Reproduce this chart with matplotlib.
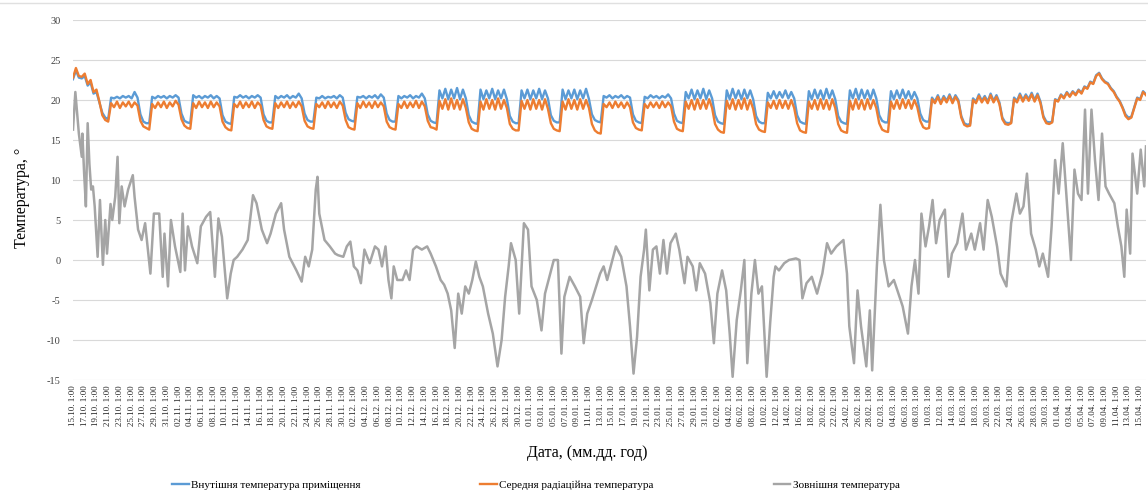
import numpy as np
import pandas as pd
import matplotlib
matplotlib.use("Agg")
import matplotlib.pyplot as plt
from matplotlib.lines import Line2D

plt.rcParams["font.family"] = ["Liberation Serif", "DejaVu Serif"]
plt.rcParams["axes.unicode_minus"] = False

# indoor / mean radiant temperature, sampled at 1:00 and 13:00 from 15.10 1:00
indoor = [
    22.6, 23.7, 22.8, 22.7, 23.0, 21.8, 22.2, 20.8, 21.0, 19.7, 18.4, 17.8,
    17.6, 20.3, 20.2, 20.4, 20.2, 20.5, 20.3, 20.5, 20.2, 21.0, 20.3, 18.2, 17.3, 17.1,
    17.1, 20.4, 20.2, 20.5, 20.3, 20.5, 20.2, 20.5, 20.3, 20.6, 20.3, 18.3, 17.4, 17.2,
    17.1, 20.6, 20.3, 20.5, 20.2, 20.5, 20.3, 20.6, 20.2, 20.5, 20.2, 18.1, 17.3, 17.1,
    17.0, 20.4, 20.3, 20.6, 20.3, 20.5, 20.2, 20.5, 20.3, 20.6, 20.3, 18.2, 17.4, 17.2,
    17.2, 20.5, 20.2, 20.5, 20.3, 20.6, 20.2, 20.5, 20.3, 20.8, 20.2, 18.3, 17.5, 17.3,
    17.3, 20.3, 20.2, 20.5, 20.2, 20.4, 20.3, 20.5, 20.2, 20.6, 20.3, 18.4, 17.6, 17.4,
    17.3, 20.4, 20.3, 20.5, 20.2, 20.5, 20.3, 20.6, 20.2, 20.7, 20.3, 18.3, 17.5, 17.3,
    17.3, 20.5, 20.2, 20.5, 20.3, 20.6, 20.2, 20.5, 20.3, 20.8, 20.2, 18.2, 17.4, 17.2,
    17.1, 21.2, 20.2, 21.4, 20.1, 21.3, 20.2, 21.5, 20.1, 21.3, 20.2, 18.1, 17.3, 17.1,
    17.0, 21.3, 20.1, 21.2, 20.2, 21.4, 20.1, 21.2, 20.2, 21.3, 20.1, 18.0, 17.3, 17.1,
    17.1, 21.2, 20.2, 21.3, 20.1, 21.2, 20.2, 21.4, 20.1, 21.2, 20.2, 18.1, 17.4, 17.2,
    17.2, 21.3, 20.1, 21.2, 20.2, 21.3, 20.1, 21.2, 20.2, 21.4, 20.1, 18.2, 17.5, 17.3,
    17.2, 20.5, 20.3, 20.6, 20.2, 20.5, 20.3, 20.6, 20.2, 20.5, 20.3, 18.2, 17.4, 17.2,
    17.1, 20.4, 20.2, 20.6, 20.3, 20.5, 20.2, 20.5, 20.3, 20.7, 20.2, 18.3, 17.4, 17.2,
    17.1, 21.0, 20.2, 21.3, 20.1, 21.2, 20.2, 21.4, 20.1, 21.2, 20.2, 18.1, 17.3, 17.1,
    17.0, 21.2, 20.1, 21.4, 20.2, 21.2, 20.1, 21.3, 20.2, 21.2, 20.1, 18.0, 17.3, 17.1,
    17.1, 20.9, 20.2, 21.1, 20.2, 21.0, 20.3, 21.2, 20.2, 21.0, 20.2, 18.1, 17.3, 17.1,
    17.0, 21.1, 20.1, 21.3, 20.2, 21.2, 20.1, 21.4, 20.2, 21.2, 20.1, 18.0, 17.3, 17.1,
    17.0, 21.2, 20.2, 21.4, 20.1, 21.3, 20.2, 21.2, 20.1, 21.3, 20.2, 18.1, 17.4, 17.2,
    17.2, 21.1, 20.1, 21.2, 20.2, 21.3, 20.2, 21.1, 20.1, 21.0, 20.2, 18.3, 17.5, 17.3,
    17.3, 20.3, 19.8, 20.6, 19.7, 20.5, 19.9, 20.7, 19.8, 20.6, 20.0, 18.0, 17.1, 16.9,
    17.0, 20.2, 19.8, 20.7, 19.9, 20.5, 19.8, 20.8, 19.9, 20.6, 19.7, 17.8, 17.2, 17.1,
    17.2, 20.3, 19.9, 20.8, 20.0, 20.7, 20.1, 20.9, 20.0, 20.8, 19.8, 18.0, 17.3, 17.2,
    17.3, 20.1, 19.9, 20.7, 20.3, 21.0, 20.5, 21.1, 20.7, 21.3, 20.9, 21.7, 21.5, 22.3,
    22.1, 23.1, 23.4, 22.7, 22.3, 22.1, 21.5, 21.1, 20.4, 19.9, 19.1, 18.2, 17.8, 17.9,
    19.1, 20.3, 20.1, 21.1, 20.7,
]
radiant = [
    22.8, 24.0, 23.0, 22.9, 23.3, 22.0, 22.5, 21.0, 21.3, 19.8, 18.1, 17.5,
    17.3, 19.6, 19.1, 19.8, 19.0, 19.7, 19.2, 19.8, 19.1, 19.7, 19.3, 17.4, 16.7, 16.5,
    16.3, 19.5, 19.0, 19.7, 19.1, 19.8, 19.0, 19.7, 19.2, 19.9, 19.4, 17.6, 16.8, 16.5,
    16.4, 19.6, 19.0, 19.8, 19.1, 19.7, 19.0, 19.8, 19.1, 19.7, 19.2, 17.3, 16.6, 16.3,
    16.2, 19.5, 19.1, 19.8, 19.0, 19.7, 19.1, 19.8, 19.0, 19.7, 19.3, 17.5, 16.7, 16.5,
    16.4, 19.6, 19.0, 19.7, 19.1, 19.8, 19.0, 19.7, 19.1, 19.8, 19.2, 17.4, 16.7, 16.5,
    16.4, 19.5, 19.1, 19.7, 19.0, 19.8, 19.1, 19.7, 19.0, 19.8, 19.3, 17.5, 16.6, 16.4,
    16.3, 19.6, 19.0, 19.8, 19.1, 19.7, 19.0, 19.8, 19.1, 19.7, 19.2, 17.3, 16.6, 16.4,
    16.3, 19.5, 19.0, 19.8, 19.0, 19.7, 19.1, 19.9, 19.0, 19.8, 19.2, 17.4, 16.6, 16.5,
    16.3, 19.9, 18.9, 20.1, 18.8, 20.2, 18.9, 20.0, 18.8, 20.1, 19.0, 17.2, 16.4, 16.2,
    16.1, 19.8, 18.8, 20.1, 18.9, 20.0, 18.8, 20.2, 18.9, 20.0, 19.0, 17.0, 16.4, 16.2,
    16.2, 19.9, 18.9, 20.0, 18.8, 20.1, 18.9, 20.0, 18.8, 20.1, 18.9, 17.1, 16.4, 16.2,
    16.1, 19.8, 18.8, 20.1, 18.9, 20.0, 18.8, 20.1, 18.9, 20.0, 19.0, 17.0, 16.2, 15.9,
    15.8, 19.5, 19.1, 19.7, 19.0, 19.8, 19.1, 19.7, 19.0, 19.7, 19.1, 17.2, 16.5, 16.3,
    16.2, 19.5, 19.0, 19.7, 19.1, 19.7, 19.0, 19.8, 19.1, 19.7, 19.2, 17.3, 16.4, 16.2,
    16.1, 19.8, 18.9, 20.0, 18.8, 20.1, 18.9, 20.0, 18.9, 20.1, 19.0, 17.0, 16.3, 16.0,
    15.9, 19.9, 18.9, 20.1, 18.8, 20.0, 18.9, 20.2, 18.8, 20.0, 18.9, 17.0, 16.3, 16.1,
    16.0, 19.7, 19.0, 19.9, 18.9, 20.0, 19.0, 19.9, 18.9, 20.0, 19.0, 17.1, 16.2, 16.0,
    15.9, 19.8, 18.9, 20.0, 18.8, 20.1, 18.9, 20.0, 18.8, 20.1, 19.0, 17.0, 16.2, 16.0,
    15.9, 19.9, 18.8, 20.1, 18.9, 20.0, 18.8, 20.1, 18.9, 20.0, 19.0, 17.1, 16.3, 16.1,
    16.0, 19.8, 18.9, 20.0, 18.9, 20.1, 19.0, 20.0, 18.9, 20.0, 19.1, 17.4, 16.6, 16.4,
    16.5, 20.1, 19.6, 20.4, 19.5, 20.3, 19.7, 20.5, 19.6, 20.4, 19.8, 17.8, 16.9, 16.7,
    16.8, 20.0, 19.6, 20.5, 19.7, 20.3, 19.6, 20.6, 19.7, 20.4, 19.5, 17.6, 17.0, 16.9,
    17.1, 20.1, 19.7, 20.6, 19.8, 20.5, 19.9, 20.7, 19.8, 20.6, 19.6, 17.8, 17.1, 17.0,
    17.2, 20.0, 19.8, 20.6, 20.2, 20.9, 20.4, 21.0, 20.6, 21.2, 20.8, 21.6, 21.4, 22.2,
    22.0, 23.0, 23.3, 22.6, 22.2, 22.0, 21.4, 21.0, 20.3, 19.8, 19.0, 18.0, 17.6, 17.8,
    19.0, 20.2, 20.0, 21.0, 20.6,
]

# outdoor temperature: day offset from 15.10 1:00 and value
outdoor_day = [
    0.0, 0.4, 1.0, 1.5, 1.6, 1.9, 2.2, 2.5, 2.8, 3.1,
    3.4, 3.7, 4.2, 4.6, 5.1, 5.5, 5.8, 6.4, 6.7, 7.2,
    7.6, 7.9, 8.3, 8.8, 9.4, 10.2, 10.5, 11.1, 11.7, 12.3,
    13.2, 13.8, 14.7, 15.3, 15.6, 16.2, 16.7, 17.4, 18.3, 18.7,
    19.1, 19.6, 20.3, 21.2, 21.8, 22.7, 23.4, 24.2, 24.8, 25.4,
    26.3, 26.9, 27.4, 28.0, 28.9, 29.8, 30.7, 31.3, 32.2, 33.1,
    33.7, 34.6, 35.5, 36.0, 36.9, 38.1, 39.0, 39.6, 40.2, 40.8,
    41.4, 41.7, 42.0, 42.9, 43.8, 44.7, 45.2, 46.1, 46.7, 47.3,
    47.9, 48.5, 49.1, 49.7, 50.6, 51.5, 52.1, 52.7, 53.3, 53.8,
    54.3, 54.7, 55.3, 56.2, 56.8, 57.4, 58.0, 58.6, 59.5, 60.4,
    61.0, 61.9, 62.7, 63.3, 63.9, 64.5, 65.1, 65.7, 66.3, 66.9,
    67.5, 68.1, 68.7, 69.3, 69.9, 70.8, 71.6, 72.4, 73.1, 73.7,
    74.3, 74.7, 75.5, 76.1, 76.9, 77.6, 78.2, 79.1, 79.9, 80.5,
    81.4, 82.0, 82.7, 83.3, 83.8, 84.7, 85.6, 86.5, 87.1, 87.7,
    88.5, 89.4,
    89.9, 90.5, 91.1, 91.7, 92.6, 93.5, 94.4, 95.0, 95.6, 96.2,
    96.8, 97.4, 97.7, 98.3, 98.9, 99.5, 100.1, 100.7, 101.3, 101.9,
    102.8, 103.4, 104.3, 104.8, 105.7, 106.3, 106.9, 107.8, 108.7, 109.3,
    109.9, 110.7, 111.4, 112.0, 112.5, 113.2, 113.9, 114.5, 115.0, 115.7,
    116.3, 116.9, 117.5, 118.3, 118.9, 119.5, 119.8, 120.4, 121.3, 122.1,
    123.3, 123.9, 124.4, 125.1, 126.0, 126.9, 127.8, 128.6, 129.3, 130.2,
    131.4, 132.0, 132.4, 133.2, 133.8, 134.4, 135.3, 135.9, 136.3, 137.1,
    137.7, 138.3, 139.1, 140.0, 140.6, 141.5, 142.4, 143.0, 143.6, 144.2,
    144.7, 145.4, 146.0, 146.6, 147.2, 147.8, 148.7, 149.3, 149.9, 150.8,
    151.7, 152.3, 153.2, 153.8, 154.7, 155.3, 156.0, 156.7, 157.6, 158.2,
    159.2, 160.0, 160.9, 161.5, 162.1, 162.7, 163.4, 164.2, 164.8, 165.4,
    166.3, 166.9, 167.5, 168.1, 168.8, 169.6, 170.2, 170.8, 171.4, 172.0,
    172.6, 173.1, 173.7, 174.3, 174.9, 175.5, 176.1, 176.7, 177.6, 178.2,
    178.8, 179.3, 179.7, 180.3, 180.7, 181.5, 182.1, 182.7, 183.0,
]
outdoor = [
    16.3, 21.0, 15.8, 12.9, 15.8, 10.8, 6.7, 17.1, 12.0, 8.8,
    9.2, 6.7, 0.4, 7.5, -0.6, 5.0, 0.8, 7.0, 5.0, 7.9,
    12.9, 4.6, 9.2, 6.7, 8.8, 10.6, 7.9, 3.8, 2.5, 4.6,
    -1.7, 5.8, 5.8, -2.1, 3.3, -3.3, 5.0, 1.7, -1.5, 5.8,
    -1.3, 4.2, 1.7, -0.4, 4.2, 5.4, 6.0, -2.1, 5.2, 2.9,
    -4.8, -1.7, 0.0, 0.4, 1.3, 2.5, 8.1, 7.1, 3.8, 2.1,
    3.3, 5.8, 7.1, 3.8, 0.4, -1.3, -2.7, 0.4, -0.8, 1.3,
    8.8, 10.4, 5.8, 2.5, 1.7, 0.8, 0.6, 0.4, 1.7, 2.3,
    -0.8, -1.3, -2.9, 1.3, -0.4, 1.7, 1.3, -0.8, 1.7, -2.5,
    -4.8, -0.8, -2.5, -2.5, -1.3, -2.5, 1.3, 1.7, 1.3, 1.7,
    0.8, -0.8, -2.5, -3.1, -4.2, -6.3, -11.0, -4.2, -6.7, -3.3,
    -4.2, -2.5, -0.2, -2.1, -3.3, -6.7, -9.2, -13.3, -10.0, -4.6,
    -0.8, 2.1, 0.0, -6.7, 4.6, 3.8, -3.3, -5.0, -8.8, -4.2,
    -1.7, 0.0, 0.0, -11.7, -4.6, -2.1, -3.3, -4.6, -10.4, -6.7,
    -5.0, -2.9,
    -1.7, -0.8, -2.5, -0.8, 1.7, 0.4, -3.3, -8.3, -14.2, -9.6,
    -2.1, 1.3, 3.8, -3.8, 1.3, 1.7, -1.7, 2.5, -1.7, 2.1,
    3.3, 1.3, -2.9, 0.4, -0.8, -3.8, -0.4, -1.7, -5.4, -10.4,
    -4.2, -1.3, -3.8, -9.2, -14.6, -7.5, -3.8, 0.0, -12.9, -4.2,
    0.0, -4.2, -3.3, -14.6, -7.9, -2.1, -0.8, -1.3, -0.4, 0.0,
    0.2, 0.0, -4.8, -2.9, -2.1, -4.2, -1.7, 2.1, 0.8, 1.7,
    2.5, -1.7, -8.3, -12.9, -3.8, -8.3, -13.3, -6.3, -13.8, -0.8,
    6.9, 0.0, -3.3, -2.5, -3.8, -5.8, -9.2, -3.3, 0.0, -4.2,
    5.8, 1.7, 4.2, 7.5, 2.1, 5.0, 6.3, -2.1, 0.8, 2.1,
    5.8, 1.3, 3.3, 1.3, 4.6, 1.3, 7.5, 5.4, 1.7, -1.7,
    -3.3, 4.6, 8.3, 5.8, 6.7, 10.8, 3.3, 1.3, -0.8, 0.8,
    -2.1, 4.2, 12.5, 8.3, 14.6, 6.3, 0.0, 11.3, 8.3, 7.5,
    18.8, 8.3, 18.8, 12.5, 7.5, 15.8, 9.2, 8.3, 7.1, 4.2,
    1.7, -2.1, 6.3, 0.8, 13.3, 8.3, 13.8, 9.2, 14.2,
]

series_names = [
    "Внутішня температура приміщення",
    "Середня радіаційна температура",
    "Зовнішня температура",
]
colors = ["#5B9BD5", "#ED7D31", "#A5A5A5"]

start = pd.Timestamp("2018-10-15 01:00")
tick_days = np.arange(0, 183, 2)
tick_dates = start + pd.to_timedelta(tick_days, unit="D")
tick_labels = [f"{d:%d.%m}. {d.hour}:{d:%M}" for d in tick_dates]

half_day = np.arange(len(indoor)) / 2

fig = plt.figure(figsize=(11.48, 4.96), dpi=100)
ax = fig.add_axes([73 / 1148, 1 - 380 / 496, 1073 / 1148, 360 / 496])

ax.plot(half_day, indoor, color=colors[0], lw=1.7)
ax.plot(half_day, radiant, color=colors[1], lw=1.7)
ax.plot(outdoor_day, outdoor, color=colors[2], lw=1.8)

ax.set_xlim(0, 183)
ax.set_ylim(-15, 30)
ax.set_yticks(range(-15, 31, 5))
ax.set_xticks(tick_days, tick_labels, rotation=90, fontsize=6.5)
ax.tick_params(axis="x", length=0, pad=4, colors="#262626")
ax.tick_params(axis="y", length=0, pad=9, labelsize=7.5, colors="#404040")
ax.grid(axis="y", color="#D9D9D9", lw=0.8)
ax.set_axisbelow(True)
for s in ax.spines.values():
    s.set_visible(False)

fig.text(587 / 1148, 1 - 453 / 496, "Дата, (мм.дд. год)", ha="center", va="center", fontsize=11.5)
fig.text(22 / 1148, 1 - 198 / 496, "Температура, °", ha="center", va="center",
         rotation=90, fontsize=11.5)

handles = [Line2D([], [], color=c, lw=1.7) for c in colors]
fig.legend(handles, series_names, loc="center left", bbox_to_anchor=(172 / 1148, 1 - 485 / 496),
           ncol=3, frameon=False, fontsize=8, handlelength=1.5, handletextpad=0.2,
           columnspacing=10.8, borderpad=0, borderaxespad=0)

# thin frame edge along the top of the picture
fig.add_artist(Line2D([0, 1], [1 - 3 / 496, 1 - 3 / 496], color="#E0E0E0", lw=1))

fig.savefig("out.png", dpi=100)
